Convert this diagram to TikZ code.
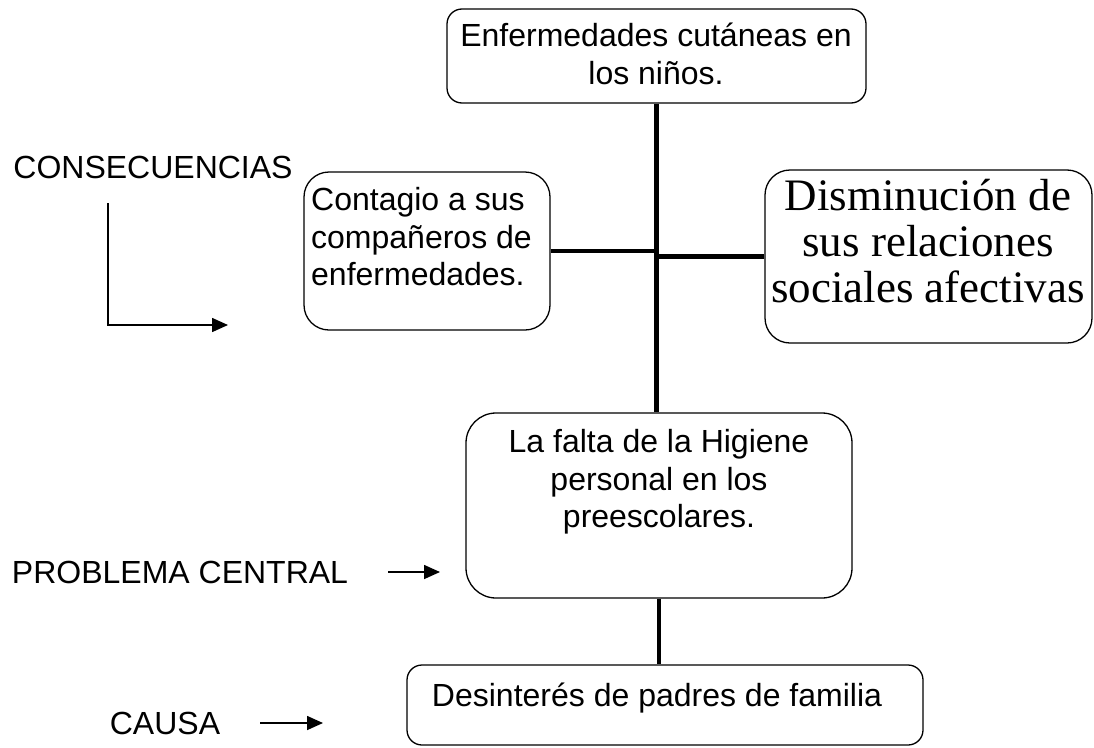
\documentclass[tikz,border=0pt]{standalone}
\usepackage{fontspec}
\setmainfont{Liberation Sans}
\newfontfamily\tnr{Liberation Serif}
\usetikzlibrary{arrows.meta}
\tikzset{
  x=1pt, y=-1pt,
  box/.style={draw, line width=1.3pt, inner sep=0pt},
  txt/.style={inner sep=0pt, font=\fontsize{32}{37.5}\selectfont},
  conn/.style={line width=4.5pt},
  arr/.style={line width=1.6pt, -{Triangle[length=16pt,width=14pt]}},
}
\begin{document}
\begin{tikzpicture}
\useasboundingbox (0,0) rectangle (1094,747);
% boxes
\node[box, rounded corners=15pt, minimum width=419pt, minimum height=94pt] (top) at (656.5,56) {};
\node[box, rounded corners=25pt, minimum width=246pt, minimum height=158pt] (left) at (427,251) {};
\node[box, rounded corners=25pt, minimum width=327pt, minimum height=173pt] (right) at (928.5,256.5) {};
\node[box, rounded corners=30pt, minimum width=386pt, minimum height=185pt] (mid) at (659,505.5) {};
\node[box, rounded corners=15pt, minimum width=516pt, minimum height=80pt] (bot) at (665,705) {};
% box texts
\node[txt, align=center] (toptxt) at (656,54) {Enfermedades cutáneas en\\los niños.};
\node[txt, align=left, anchor=west] (lefttxt) at (311,237) {Contagio a sus\\compañeros de\\enfermedades.};
\node[inner sep=0pt, align=center, font=\tnr\fontsize{45}{46}\selectfont] (righttxt) at (928,241) {Disminución de\\sus relaciones\\sociales afectivas};
\node[txt, align=center] (midtxt) at (659,482) {La falta de la Higiene\\personal en los\\preescolares.};
\node[txt] (bottxt) at (657,698) {Desinterés de padres de familia};
% side labels
\node[txt] (cons) at (153,167) {CONSECUENCIAS};
\node[txt] (prob) at (180,572) {PROBLEMA CENTRAL};
\node[txt] (causa) at (165,723) {CAUSA};
% connectors
\draw[conn] (top.south) -- (top.south |- mid.north);
\draw[conn] (left.east) -- (left.east -| top.south);
\draw[conn] (right.west) -- (right.west -| top.south);
\draw[conn] (mid.south) -- (mid.south |- bot.north);
% arrows
\coordinate (c1) at (108,203);
\coordinate (c2) at (228,325);
\draw[arr] (c1) |- (c2);
\coordinate (p1) at (388,572);
\coordinate (p2) at (440,572);
\draw[arr] (p1) -- (p2);
\coordinate (k1) at (260,723);
\coordinate (k2) at (323,723);
\draw[arr] (k1) -- (k2);
\end{tikzpicture}
\end{document}
